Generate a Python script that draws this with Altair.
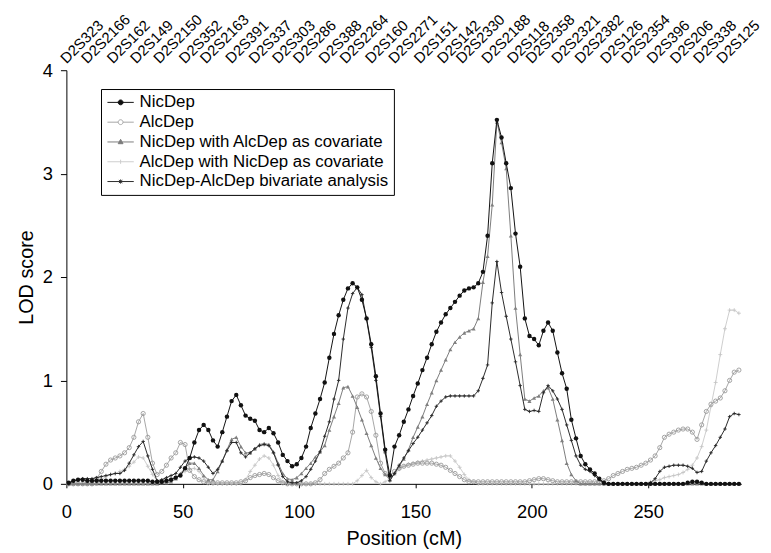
import altair as alt
import pandas as pd

FONT = "Liberation Sans"

# map positions (cM) of the grid on which curves were read
POS = list(range(1, 290, 2))

SERIES = ["NicDep", "AlcDep", "NicDep with AlcDep as covariate",
          "AlcDep with NicDep as covariate", "NicDep-AlcDep bivariate analysis"]

NICDEP = [
    0.01, 0.03, 0.04, 0.04, 0.03, 0.03, 0.03, 0.03, 0.03, 0.03,
    0.03, 0.03, 0.03, 0.03, 0.03, 0.03, 0.03, 0.03, 0.02, 0.02,
    0.02, 0.03, 0.04, 0.06, 0.08, 0.15, 0.25, 0.40, 0.52, 0.57,
    0.52, 0.42, 0.36, 0.50, 0.65, 0.80, 0.86, 0.76, 0.66, 0.63,
    0.61, 0.52, 0.50, 0.54, 0.49, 0.40, 0.28, 0.22, 0.17, 0.19,
    0.25, 0.36, 0.54, 0.68, 0.82, 0.98, 1.22, 1.45, 1.63, 1.78,
    1.89, 1.94, 1.90, 1.78, 1.60, 1.35, 1.04, 0.68, 0.33, 0.08,
    0.36, 0.47, 0.60, 0.72, 0.85, 0.97, 1.10, 1.22, 1.35, 1.47,
    1.56, 1.64, 1.70, 1.76, 1.82, 1.87, 1.89, 1.90, 1.94, 2.05,
    2.40, 3.10, 3.52, 3.35, 3.10, 2.86, 2.42, 2.10, 1.60, 1.43,
    1.40, 1.34, 1.48, 1.56, 1.48, 1.27, 1.07, 0.92, 0.62, 0.44,
    0.27, 0.19, 0.14, 0.10, 0.05, 0.01, 0.00, 0.00, 0.00, 0.00,
    0.00, 0.00, 0.00, 0.00, 0.00, 0.00, 0.00, 0.00, 0.00, 0.00,
    0.00, 0.00, 0.00, 0.01, 0.02, 0.02, 0.01, 0.00, 0.00, 0.00,
    0.00, 0.00, 0.00, 0.00, 0.00,
]

ALCDEP = [
    0.00, 0.00, 0.00, 0.00, 0.00, 0.00, 0.05, 0.12, 0.19, 0.23,
    0.25, 0.27, 0.30, 0.35, 0.45, 0.60, 0.68, 0.45, 0.20, 0.09,
    0.12, 0.18, 0.25, 0.30, 0.40, 0.38, 0.13, 0.07, 0.04, 0.02,
    0.01, 0.01, 0.01, 0.01, 0.01, 0.01, 0.01, 0.02, 0.03, 0.06,
    0.08, 0.09, 0.10, 0.09, 0.06, 0.03, 0.01, 0.00, 0.00, 0.00,
    0.00, 0.00, 0.00, 0.01, 0.04, 0.10, 0.14, 0.17, 0.20, 0.25,
    0.30, 0.50, 0.84, 0.87, 0.84, 0.70, 0.47, 0.20, 0.10, 0.08,
    0.12, 0.15, 0.17, 0.18, 0.19, 0.20, 0.20, 0.20, 0.20, 0.19,
    0.18, 0.16, 0.13, 0.10, 0.07, 0.04, 0.02, 0.02, 0.02, 0.02,
    0.02, 0.02, 0.02, 0.02, 0.02, 0.02, 0.02, 0.02, 0.02, 0.03,
    0.04, 0.05, 0.05, 0.04, 0.03, 0.02, 0.02, 0.02, 0.02, 0.02,
    0.02, 0.02, 0.02, 0.02, 0.02, 0.03, 0.05, 0.08, 0.10, 0.12,
    0.14, 0.15, 0.16, 0.18, 0.20, 0.23, 0.27, 0.35, 0.45, 0.48,
    0.50, 0.52, 0.53, 0.53, 0.50, 0.43, 0.57, 0.70, 0.77, 0.80,
    0.83, 0.90, 1.00, 1.08, 1.10,
]

NIC_COV = [
    0.00, 0.00, 0.00, 0.00, 0.00, 0.00, 0.00, 0.00, 0.00, 0.00,
    0.00, 0.00, 0.00, 0.00, 0.00, 0.00, 0.00, 0.00, 0.00, 0.00,
    0.01, 0.01, 0.02, 0.05, 0.10, 0.15, 0.20, 0.20, 0.15, 0.08,
    0.04, 0.04, 0.12, 0.22, 0.33, 0.43, 0.45, 0.36, 0.30, 0.30,
    0.34, 0.38, 0.39, 0.38, 0.31, 0.20, 0.10, 0.05, 0.04, 0.06,
    0.10, 0.15, 0.20, 0.26, 0.31, 0.37, 0.52, 0.65, 0.78, 0.93,
    0.94, 0.85, 0.74, 0.62, 0.49, 0.37, 0.25, 0.15, 0.09, 0.04,
    0.10, 0.17, 0.24, 0.33, 0.45, 0.55, 0.65, 0.77, 0.88, 1.00,
    1.10, 1.20, 1.30, 1.37, 1.42, 1.46, 1.48, 1.50, 1.60, 1.95,
    2.20, 2.70, 3.50, 3.30, 3.05, 2.40, 1.70, 1.25, 0.82, 0.80,
    0.83, 0.85, 0.90, 0.93, 0.82, 0.62, 0.42, 0.20, 0.09, 0.03,
    0.00, 0.00, 0.00, 0.00, 0.00, 0.00, 0.00, 0.00, 0.00, 0.00,
    0.00, 0.00, 0.00, 0.00, 0.00, 0.00, 0.00, 0.00, 0.00, 0.00,
    0.00, 0.00, 0.00, 0.00, 0.00, 0.00, 0.00, 0.00, 0.00, 0.00,
    0.00, 0.00, 0.00, 0.00, 0.00,
]

ALC_COV = [
    0.00, 0.00, 0.00, 0.00, 0.00, 0.00, 0.00, 0.04, 0.07, 0.09,
    0.10, 0.12, 0.14, 0.17, 0.21, 0.26, 0.25, 0.17, 0.09, 0.03,
    0.02, 0.03, 0.05, 0.07, 0.09, 0.12, 0.14, 0.15, 0.12, 0.06,
    0.02, 0.00, 0.00, 0.00, 0.00, 0.00, 0.00, 0.00, 0.04, 0.12,
    0.18, 0.24, 0.27, 0.25, 0.18, 0.08, 0.02, 0.00, 0.00, 0.00,
    0.00, 0.00, 0.00, 0.00, 0.00, 0.00, 0.00, 0.00, 0.00, 0.00,
    0.00, 0.00, 0.03, 0.08, 0.13, 0.06, 0.02, 0.00, 0.02, 0.05,
    0.10, 0.14, 0.17, 0.19, 0.20, 0.21, 0.22, 0.23, 0.24, 0.25,
    0.26, 0.27, 0.27, 0.22, 0.16, 0.09, 0.04, 0.02, 0.00, 0.00,
    0.00, 0.00, 0.00, 0.00, 0.00, 0.00, 0.00, 0.00, 0.00, 0.00,
    0.00, 0.00, 0.00, 0.00, 0.00, 0.00, 0.00, 0.00, 0.00, 0.00,
    0.00, 0.00, 0.00, 0.00, 0.00, 0.00, 0.00, 0.00, 0.00, 0.00,
    0.00, 0.00, 0.00, 0.00, 0.00, 0.02, 0.03, 0.04, 0.06, 0.07,
    0.08, 0.09, 0.11, 0.14, 0.18, 0.25, 0.36, 0.52, 0.75, 0.98,
    1.25, 1.50, 1.68, 1.68, 1.65,
]

BIVAR = [
    0.00, 0.03, 0.04, 0.05, 0.05, 0.05, 0.06, 0.07, 0.08, 0.09,
    0.10, 0.10, 0.13, 0.20, 0.28, 0.36, 0.41, 0.27, 0.14, 0.03,
    0.04, 0.06, 0.08, 0.10, 0.16, 0.22, 0.25, 0.26, 0.25, 0.22,
    0.16, 0.10, 0.14, 0.22, 0.32, 0.40, 0.40, 0.30, 0.26, 0.30,
    0.34, 0.37, 0.38, 0.37, 0.30, 0.18, 0.07, 0.02, 0.01, 0.01,
    0.03, 0.07, 0.14, 0.22, 0.31, 0.46, 0.60, 0.82, 1.00, 1.40,
    1.70, 1.84, 1.90, 1.83, 1.59, 1.32, 1.00, 0.65, 0.30, 0.03,
    0.10, 0.18, 0.25, 0.32, 0.39, 0.45, 0.52, 0.59, 0.66, 0.75,
    0.80, 0.84, 0.85, 0.85, 0.85, 0.85, 0.85, 0.85, 0.90, 1.02,
    1.15, 1.75, 2.15, 1.85, 1.62, 1.40, 1.18, 0.95, 0.72, 0.70,
    0.71, 0.70, 0.88, 0.95, 0.90, 0.82, 0.72, 0.57, 0.42, 0.27,
    0.18, 0.14, 0.12, 0.08, 0.04, 0.00, 0.00, 0.00, 0.00, 0.00,
    0.00, 0.00, 0.00, 0.00, 0.00, 0.01, 0.05, 0.12, 0.16, 0.17,
    0.18, 0.18, 0.18, 0.17, 0.15, 0.11, 0.12, 0.22, 0.30, 0.37,
    0.45, 0.53, 0.65, 0.68, 0.67,
]

MARKER_NAMES = ["D2S323", "D2S2166", "D2S162", "D2S149", "D2S2150", "D2S352",
                "D2S2163", "D2S391", "D2S337", "D2S303", "D2S286", "D2S388",
                "D2S2264", "D2S160", "D2S2271", "D2S151", "D2S142", "D2S2330",
                "D2S2188", "D2S118", "D2S2358", "D2S2321", "D2S2382", "D2S126",
                "D2S2354", "D2S396", "D2S206", "D2S338", "D2S125"]
MARKER_POS = [0, 9, 20, 30, 40, 51, 60, 71, 81, 91, 100, 111, 120, 131, 141,
              152, 162, 170, 181, 192, 200, 211, 221, 232, 241, 252, 262, 272, 282]

VALUES = {
    "NicDep": NICDEP,
    "AlcDep": ALCDEP,
    "NicDep with AlcDep as covariate": NIC_COV,
    "AlcDep with NicDep as covariate": ALC_COV,
    "NicDep-AlcDep bivariate analysis": BIVAR,
}

# ---- styles ----
LINE_COLOR = {
    "NicDep": "#111111",
    "AlcDep": "#a6a6a6",
    "NicDep with AlcDep as covariate": "#7c7c7c",
    "AlcDep with NicDep as covariate": "#cdcdcd",
    "NicDep-AlcDep bivariate analysis": "#2b2b2b",
}
PLUS = "M0,-1V1M-1,0H1"
POINT_STYLE = {
    "NicDep": dict(shape="circle", filled=True, size=20, color="#111111"),
    "AlcDep": dict(shape="circle", filled=False, size=18, color="#999999", strokeWidth=0.9),
    "NicDep with AlcDep as covariate": dict(shape="triangle-up", filled=True, size=17, color="#808080"),
    "AlcDep with NicDep as covariate": dict(shape=PLUS, filled=False, size=16, color="#c4c4c4", strokeWidth=0.8),
    "NicDep-AlcDep bivariate analysis": dict(shape=PLUS, filled=False, size=12, color="#262626", strokeWidth=0.9),
}
DRAW_ORDER = ["AlcDep with NicDep as covariate", "AlcDep",
              "NicDep with AlcDep as covariate", "NicDep-AlcDep bivariate analysis", "NicDep"]

LEG_PATHS = [
    "M-1,0H2.8M0.55,0A0.35,0.35,0,1,1,1.25,0A0.35,0.35,0,1,1,0.55,0Z",
    "M-1,0H0.55M1.25,0H2.8M0.55,0A0.35,0.35,0,1,1,1.25,0A0.35,0.35,0,1,1,0.55,0Z",
    "M-1,0H2.8M0.9,-0.38L1.25,0.25L0.55,0.25Z",
    "M-1,0H2.8M0.9,-0.3V0.3",
    "M-1,0H2.8M0.9,-0.3V0.3M0.65,-0.2L1.15,0.2M0.65,0.2L1.15,-0.2",
]
LEG_FILL = ["#111111", "white", "#7c7c7c", "transparent", "transparent"]
LEG_STROKE = ["#111111", "#a6a6a6", "#7c7c7c", "#cdcdcd", "#2b2b2b"]

x_scale = alt.Scale(domain=[0, 290], nice=False, zero=False)
y_scale = alt.Scale(domain=[0, 4], nice=False)

x_axis = alt.Axis(values=[0, 50, 100, 150, 200, 250], format="d", title="Position (cM)",
                  grid=False, domainColor="black", domainWidth=1, tickColor="black",
                  tickSize=4, tickWidth=1, labelFont=FONT, labelFontSize=18.5,
                  labelColor="black", labelPadding=15, labelFlush=False,
                  titleFont=FONT, titleFontSize=20, titleFontWeight="normal",
                  titleColor="black", titleBaseline="alphabetic", titleY=61)
y_axis = alt.Axis(values=[0, 1, 2, 3, 4], format="d", title="LOD score",
                  grid=False, domainColor="black", domainWidth=1, tickColor="black",
                  tickSize=6, tickWidth=1, labelFont=FONT, labelFontSize=18.5,
                  labelColor="black", labelPadding=8,
                  titleFont=FONT, titleFontSize=20, titleFontWeight="normal",
                  titleColor="black", titleBaseline="alphabetic", titleX=-34,
                  titleY=209, titleAlign="center")

X = alt.X("pos:Q", scale=x_scale, axis=x_axis)
Y = alt.Y("lod:Q", scale=y_scale, axis=y_axis)

layers = []
for name in DRAW_ORDER:
    df = pd.DataFrame({"pos": POS, "lod": VALUES[name], "series": name})
    base = alt.Chart(df)
    layers.append(base.mark_line(color=LINE_COLOR[name], strokeWidth=1).encode(x=X, y=Y))
    layers.append(base.mark_point(opacity=1, **POINT_STYLE[name]).encode(x=X, y=Y))

markers_df = pd.DataFrame({"name": MARKER_NAMES, "pos": MARKER_POS})
markers = alt.Chart(markers_df).mark_text(
    angle=315, align="left", baseline="alphabetic", fontSize=15, font=FONT, color="black"
).encode(x=X, y=alt.value(-6), text="name:N")
layers.append(markers)

leg = alt.Legend(title=None, orient="none", legendX=35, legendY=19, direction="vertical",
                 symbolSize=196, symbolStrokeWidth=1, symbolOpacity=1,
                 labelFont=FONT, labelFontSize=17, labelColor="black", labelLimit=400,
                 labelOffset=17, rowPadding=2, padding=5, strokeColor="black",
                 fillColor="white", cornerRadius=0)
leg_df = pd.DataFrame({"series": pd.Series([], dtype=str)})
legend_layer = alt.Chart(leg_df).mark_point(opacity=1, strokeWidth=1).encode(
    fill=alt.Fill("series:N", scale=alt.Scale(domain=SERIES, range=LEG_FILL), legend=leg),
    stroke=alt.Stroke("series:N", scale=alt.Scale(domain=SERIES, range=LEG_STROKE), legend=leg),
    shape=alt.Shape("series:N", scale=alt.Scale(domain=SERIES, range=LEG_PATHS), legend=leg),
)
layers.append(legend_layer)

chart = alt.layer(*layers).properties(
    width=682, height=418,
    autosize=alt.AutoSizeParams(type="none"),
    padding={"left": 59, "top": 60, "right": 22, "bottom": 66},
    background="white",
).configure_view(stroke=None)

chart.save("out.html", embed_options={"renderer": "svg", "actions": False})
